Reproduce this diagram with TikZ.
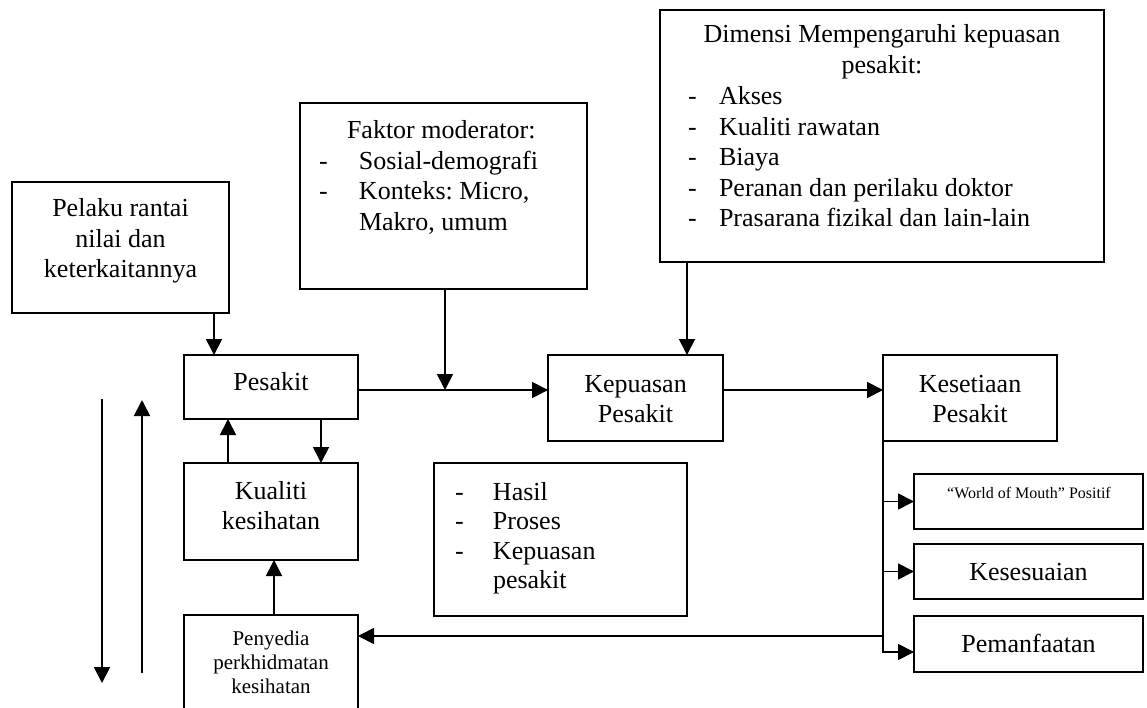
\documentclass[tikz,border=0pt]{standalone}
\usepackage{fontspec}
\setmainfont{Liberation Serif}
\usetikzlibrary{arrows.meta,calc}
\frenchspacing
% stacked lines: centred or left-aligned, baseline at the first line
\newcommand\cstack[1]{\begin{tabular}[t]{@{}c@{}}#1\end{tabular}}
\newcommand\lstack[1]{\begin{tabular}[t]{@{}l@{}}#1\end{tabular}}
\begin{document}
\begin{tikzpicture}[x=1pt,y=-1pt,
  box/.style={draw=black,line width=1.7pt,inner sep=0pt,outer sep=0pt},
  txt/.style={inner sep=0pt,outer sep=0pt,font=\fontsize{26}{30.5}\selectfont},
  smalltxt/.style={inner sep=0pt,outer sep=0pt,font=\fontsize{21}{24}\selectfont},
  tinytxt/.style={inner sep=0pt,outer sep=0pt,font=\fontsize{16}{19}\selectfont},
  arr/.style={draw=black,line width=1.8pt,-{Triangle[length=16pt,width=16pt]}},
  link/.style={draw=black,line width=1.8pt}]
\useasboundingbox[fill=white] (0,0) rectangle (1147,708);

% ---- boxes ----
\node[box,minimum width=217pt,minimum height=131pt] (pelaku) at (120.5,247.5) {};
\node[box,minimum width=287pt,minimum height=186pt] (faktor) at (443.5,196) {};
\node[box,minimum width=444pt,minimum height=252pt] (dimensi) at (882,136) {};
\node[box,minimum width=174pt,minimum height=64pt] (pesakit) at (271,387) {};
\node[box,minimum width=175pt,minimum height=86pt] (kepuasan) at (635.5,398) {};
\node[box,minimum width=174pt,minimum height=86pt] (kesetiaan) at (970,398) {};
\node[box,minimum width=174pt,minimum height=97pt] (kualiti) at (271,511.5) {};
\node[box,minimum width=174pt,minimum height=110pt] (penyedia) at (271,670) {};
\node[box,minimum width=253pt,minimum height=153pt] (hasil) at (560.5,539.5) {};
\node[box,minimum width=229pt,minimum height=55pt] (wom) at (1028.5,501.5) {};
\node[box,minimum width=229pt,minimum height=55pt] (sesuai) at (1028.5,571.5) {};
\node[box,minimum width=229pt,minimum height=56pt] (manfaat) at (1028.5,644) {};

% ---- texts ----
\node[txt,anchor=base] (pelakuT) at (120.5,217) {\cstack{Pelaku rantai\\nilai dan\\keterkaitannya}};
\node[txt,anchor=base west] (faktorT) at (319,139) {\lstack{\hspace*{28pt}Faktor moderator:\\
  \makebox[40pt][l]{-}Sosial-demografi\\
  \makebox[40pt][l]{-}Konteks: Micro,\\
  \hspace*{40pt}Makro, umum}};
\node[txt,anchor=base] (dimensiT) at (882,43) {\cstack{Dimensi Mempengaruhi kepuasan\\pesakit:}};
\node[txt,anchor=base west] (dimensiL) at (688,105) {\lstack{\makebox[31pt][l]{-}Akses\\
  \makebox[31pt][l]{-}Kualiti rawatan\\
  \makebox[31pt][l]{-}Biaya\\
  \makebox[31pt][l]{-}Peranan dan perilaku doktor\\
  \makebox[31pt][l]{-}Prasarana fizikal dan lain-lain}};
\node[txt,anchor=base] (pesakitT) at (271,390) {Pesakit};
\node[txt,anchor=base] (kepuasanT) at (635.5,392) {\cstack{Kepuasan\\Pesakit}};
\node[txt,anchor=base] (kesetiaanT) at (970,392) {\cstack{Kesetiaan\\Pesakit}};
\node[txt,anchor=base] (kualitiT) at (271,499) {\cstack{Kualiti\\kesihatan}};
\node[smalltxt,anchor=base] (penyediaT) at (271,645) {\cstack{Penyedia\\perkhidmatan\\kesihatan}};
\node[txt,anchor=base west,font=\fontsize{26}{29.5}\selectfont] (hasilT) at (455,500) {\lstack{\makebox[38pt][l]{-}Hasil\\
  \makebox[38pt][l]{-}Proses\\
  \makebox[38pt][l]{-}Kepuasan\\
  \hspace*{38pt}pesakit}};
\node[tinytxt,anchor=base] (womT) at (1029,498) {“World of Mouth” Positif};
\node[txt,anchor=base] (sesuaiT) at (1028.5,580) {Kesesuaian};
\node[txt,anchor=base] (manfaatT) at (1028.5,652) {Pemanfaatan};

% ---- reference lines and columns for the connectors ----
\coordinate (mainrow) at (0,390);
\coordinate (backrow) at (0,636);
\coordinate (lastrow) at (0,652);
\coordinate (colPelaku) at (214,0);
\coordinate (colFaktor) at (445,0);
\coordinate (colUp) at (228,0);
\coordinate (colDown) at (321,0);
\coordinate (colProv) at (274,0);
\coordinate (colDim) at (687,0);

% ---- connectors ----
\draw[arr] (colPelaku |- pelaku.south) -- (colPelaku |- pesakit.north);
\draw[arr] (pesakit.east |- mainrow) -- (kepuasan.west |- mainrow);
\draw[arr] (colFaktor |- faktor.south) -- (colFaktor |- mainrow);
\draw[arr] (colDim |- dimensi.south) -- (colDim |- kepuasan.north);
\draw[arr] (kepuasan.east |- mainrow) -- (kesetiaan.west |- mainrow);
\draw[arr] (colUp |- kualiti.north) -- (colUp |- pesakit.south);
\draw[arr] (colDown |- pesakit.south) -- (colDown |- kualiti.north);
\draw[arr] (colProv |- penyedia.north) -- (colProv |- kualiti.south);

% loyalty outcomes branch off a common trunk
\draw[arr] (kesetiaan.south west) |- (manfaat.west |- lastrow);
\draw[arr] (kesetiaan.south west |- wom.west) -- (wom.west);
\draw[arr] (kesetiaan.south west |- sesuai.west) -- (sesuai.west);
\draw[arr] (kesetiaan.south west |- backrow) -- (penyedia.east |- backrow);

% free-standing direction arrows on the left
\coordinate (downTop) at (102,399);
\coordinate (downEnd) at (102,683);
\coordinate (upStart) at (142,673);
\coordinate (upEnd) at (142,400);
\draw[arr] (downTop) -- (downEnd);
\draw[arr] (upStart) -- (upEnd);
\end{tikzpicture}
\end{document}
